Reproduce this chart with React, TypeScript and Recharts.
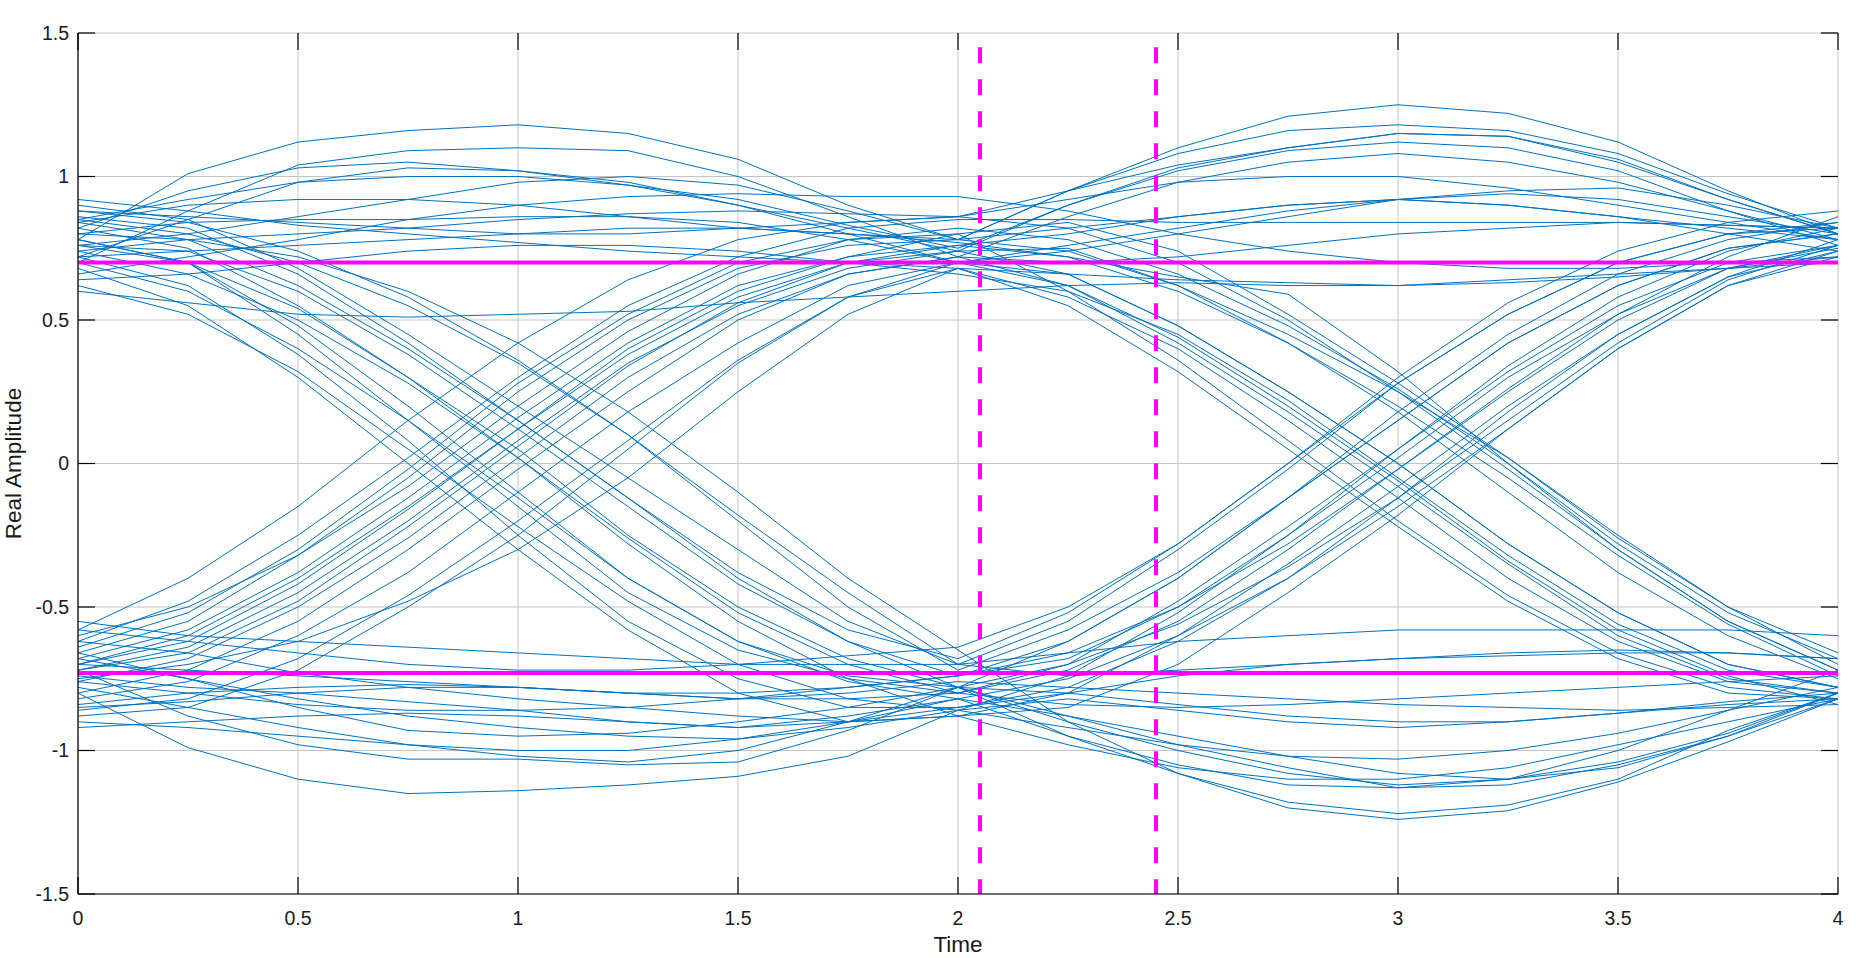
import React from 'react';
import { LineChart, Line, XAxis, YAxis, CartesianGrid, ReferenceLine } from 'recharts';

// sample instants of each trace (two symbol periods)
const time = [0, 0.25, 0.5, 0.75, 1, 1.25, 1.5, 1.75, 2, 2.25, 2.5, 2.75, 3, 3.25, 3.5, 3.75, 4];

const xTicks = [0, 0.5, 1, 1.5, 2, 2.5, 3, 3.5, 4];
const yTicks = [-1.5, -1, -0.5, 0, 0.5, 1, 1.5];

// traces grouped by the symbol sequence at t = 0, 2, 4
const highHighHigh = [
    [0.78, 1.01, 1.12, 1.16, 1.18, 1.15, 1.06, 0.9, 0.78, 0.95, 1.1, 1.21, 1.25, 1.22, 1.12, 0.95, 0.8],
    [0.7, 0.88, 1.04, 1.09, 1.1, 1.09, 1.0, 0.86, 0.72, 0.7, 0.72, 0.76, 0.8, 0.82, 0.84, 0.83, 0.82],
    [0.85, 0.92, 0.98, 1.0, 1.0, 0.97, 0.92, 0.83, 0.75, 0.9, 1.02, 1.09, 1.12, 1.1, 1.02, 0.88, 0.76],
    [0.6, 0.56, 0.52, 0.51, 0.52, 0.53, 0.56, 0.58, 0.6, 0.62, 0.63, 0.62, 0.62, 0.64, 0.66, 0.68, 0.7],
    [0.8, 0.84, 0.85, 0.85, 0.86, 0.86, 0.84, 0.78, 0.7, 0.74, 0.8, 0.86, 0.92, 0.95, 0.96, 0.9, 0.82],
    [0.66, 0.72, 0.78, 0.85, 0.9, 0.93, 0.94, 0.93, 0.93, 0.88, 0.8, 0.74, 0.7, 0.68, 0.68, 0.7, 0.72],
    [0.88, 0.86, 0.84, 0.82, 0.8, 0.8, 0.82, 0.84, 0.86, 0.95, 1.04, 1.1, 1.15, 1.14, 1.05, 0.92, 0.8],
    [0.72, 0.74, 0.76, 0.78, 0.8, 0.82, 0.82, 0.8, 0.78, 0.82, 0.86, 0.9, 0.92, 0.9, 0.86, 0.82, 0.78],
];

const highHighLow = [
    [0.82, 0.95, 1.03, 1.05, 1.02, 0.97, 0.9, 0.82, 0.74, 0.66, 0.48, 0.25, 0.0, -0.28, -0.52, -0.7, -0.78],
    [0.72, 0.85, 0.98, 1.03, 1.02, 0.98, 0.9, 0.8, 0.7, 0.62, 0.42, 0.18, -0.08, -0.35, -0.6, -0.75, -0.8],
    [0.74, 0.78, 0.8, 0.82, 0.85, 0.87, 0.88, 0.87, 0.86, 0.82, 0.7, 0.5, 0.25, -0.02, -0.3, -0.55, -0.72],
    [0.92, 0.88, 0.83, 0.8, 0.77, 0.74, 0.72, 0.7, 0.68, 0.55, 0.32, 0.05, -0.22, -0.48, -0.68, -0.8, -0.82],
    [0.76, 0.8, 0.86, 0.92, 0.98, 1.0, 0.97, 0.88, 0.78, 0.74, 0.62, 0.45, 0.25, 0.02, -0.25, -0.5, -0.7],
    [0.64, 0.66, 0.7, 0.74, 0.76, 0.76, 0.74, 0.7, 0.66, 0.6, 0.45, 0.22, -0.05, -0.32, -0.56, -0.72, -0.78],
    [0.84, 0.9, 0.92, 0.92, 0.9, 0.86, 0.82, 0.8, 0.77, 0.72, 0.65, 0.59, 0.32, 0.0, -0.3, -0.55, -0.72],
];

const highLowHigh = [
    [0.82, 0.75, 0.55, 0.3, 0.05, -0.25, -0.5, -0.68, -0.78, -0.62, -0.4, -0.12, 0.15, 0.42, 0.62, 0.75, 0.8],
    [0.78, 0.7, 0.45, 0.15, -0.15, -0.45, -0.65, -0.75, -0.8, -0.7, -0.48, -0.22, 0.05, 0.32, 0.55, 0.7, 0.76],
    [0.9, 0.85, 0.68, 0.45, 0.2, -0.05, -0.3, -0.55, -0.7, -0.55, -0.3, -0.02, 0.28, 0.52, 0.7, 0.8, 0.82],
    [0.72, 0.62, 0.38, 0.08, -0.25, -0.55, -0.75, -0.85, -0.85, -0.78, -0.62, -0.4, -0.12, 0.18, 0.45, 0.65, 0.74],
    [0.85, 0.8, 0.7, 0.55, 0.35, 0.1, -0.2, -0.5, -0.72, -0.58, -0.38, -0.12, 0.18, 0.45, 0.66, 0.78, 0.84],
    [0.76, 0.74, 0.6, 0.38, 0.12, -0.15, -0.42, -0.62, -0.74, -0.68, -0.5, -0.25, 0.02, 0.3, 0.52, 0.68, 0.75],
    [0.68, 0.55, 0.3, 0.0, -0.3, -0.58, -0.8, -0.9, -0.88, -0.85, -0.7, -0.45, -0.18, 0.12, 0.4, 0.62, 0.72],
    [0.86, 0.82, 0.66, 0.42, 0.15, -0.12, -0.38, -0.58, -0.68, -0.52, -0.28, 0.0, 0.3, 0.56, 0.74, 0.84, 0.88],
];

const highLowLow = [
    [0.8, 0.78, 0.72, 0.6, 0.42, 0.18, -0.1, -0.4, -0.65, -0.9, -1.08, -1.2, -1.24, -1.21, -1.11, -0.97, -0.82],
    [0.78, 0.7, 0.48, 0.2, -0.1, -0.4, -0.62, -0.76, -0.82, -0.95, -1.05, -1.12, -1.13, -1.1, -1.04, -0.94, -0.8],
    [0.84, 0.78, 0.62, 0.4, 0.15, -0.12, -0.4, -0.62, -0.78, -0.9, -1.0, -1.08, -1.12, -1.1, -1.0, -0.86, -0.72],
    [0.7, 0.6, 0.4, 0.15, -0.12, -0.4, -0.62, -0.74, -0.78, -0.8, -0.84, -0.88, -0.9, -0.9, -0.87, -0.83, -0.8],
    [0.88, 0.84, 0.74, 0.58, 0.36, 0.1, -0.18, -0.45, -0.7, -0.74, -0.72, -0.7, -0.68, -0.66, -0.65, -0.66, -0.68],
    [0.74, 0.66, 0.5, 0.28, 0.02, -0.26, -0.52, -0.7, -0.8, -0.84, -0.85, -0.84, -0.82, -0.8, -0.78, -0.76, -0.74],
    [0.62, 0.52, 0.32, 0.05, -0.22, -0.48, -0.7, -0.82, -0.86, -0.92, -0.98, -1.02, -1.03, -1.0, -0.94, -0.86, -0.78],
    [0.76, 0.7, 0.54, 0.3, 0.02, -0.28, -0.55, -0.75, -0.88, -0.98, -1.06, -1.1, -1.1, -1.06, -0.98, -0.9, -0.82],
];

const lowLowLow = [
    [-0.8, -0.99, -1.1, -1.15, -1.14, -1.12, -1.09, -1.02, -0.86, -0.82, -0.86, -0.9, -0.92, -0.9, -0.87, -0.84, -0.82],
    [-0.72, -0.88, -0.98, -1.03, -1.03, -1.05, -1.04, -0.93, -0.78, -0.95, -1.08, -1.18, -1.22, -1.19, -1.1, -0.93, -0.8],
    [-0.66, -0.75, -0.85, -0.93, -0.95, -0.94, -0.9, -0.85, -0.78, -0.88, -0.98, -1.06, -1.13, -1.12, -1.05, -0.95, -0.8],
    [-0.74, -0.78, -0.8, -0.83, -0.86, -0.9, -0.92, -0.9, -0.85, -0.8, -0.74, -0.7, -0.68, -0.67, -0.66, -0.66, -0.68],
    [-0.55, -0.6, -0.62, -0.64, -0.66, -0.68, -0.7, -0.7, -0.7, -0.66, -0.62, -0.6, -0.58, -0.58, -0.58, -0.58, -0.6],
    [-0.85, -0.83, -0.8, -0.78, -0.78, -0.8, -0.82, -0.8, -0.76, -0.78, -0.8, -0.82, -0.84, -0.85, -0.86, -0.85, -0.84],
    [-0.92, -0.9, -0.88, -0.87, -0.88, -0.9, -0.92, -0.88, -0.82, -0.88, -0.95, -1.02, -1.08, -1.1, -1.06, -0.95, -0.82],
];

const lowLowHigh = [
    [-0.62, -0.66, -0.73, -0.78, -0.82, -0.85, -0.88, -0.9, -0.88, -0.8, -0.6, -0.35, -0.08, 0.2, 0.45, 0.65, 0.78],
    [-0.76, -0.8, -0.84, -0.86, -0.86, -0.85, -0.82, -0.78, -0.74, -0.62, -0.4, -0.12, 0.15, 0.42, 0.62, 0.75, 0.8],
    [-0.68, -0.75, -0.82, -0.88, -0.92, -0.95, -0.96, -0.92, -0.86, -0.74, -0.52, -0.25, 0.05, 0.34, 0.58, 0.74, 0.82],
    [-0.84, -0.8, -0.78, -0.77, -0.78, -0.8, -0.8, -0.78, -0.74, -0.66, -0.5, -0.28, -0.02, 0.25, 0.5, 0.68, 0.76],
    [-0.58, -0.62, -0.66, -0.7, -0.72, -0.72, -0.7, -0.67, -0.64, -0.5, -0.28, 0.0, 0.28, 0.52, 0.7, 0.8, 0.84],
    [-0.78, -0.85, -0.92, -0.98, -1.0, -1.0, -0.96, -0.9, -0.82, -0.75, -0.6, -0.4, -0.15, 0.12, 0.4, 0.62, 0.74],
    [-0.7, -0.72, -0.74, -0.76, -0.78, -0.8, -0.82, -0.82, -0.8, -0.72, -0.55, -0.3, -0.02, 0.26, 0.52, 0.72, 0.86],
    [-0.9, -0.92, -0.95, -0.98, -1.02, -1.04, -1.0, -0.9, -0.78, -0.7, -0.56, -0.36, -0.12, 0.15, 0.42, 0.64, 0.76],
];

const lowHighHigh = [
    [-0.7, -0.6, -0.4, -0.15, 0.12, 0.38, 0.58, 0.7, 0.74, 0.9, 1.03, 1.1, 1.15, 1.14, 1.06, 0.92, 0.8],
    [-0.8, -0.72, -0.55, -0.3, -0.02, 0.25, 0.5, 0.66, 0.72, 0.86, 0.98, 1.05, 1.08, 1.05, 0.98, 0.88, 0.78],
    [-0.62, -0.48, -0.25, 0.02, 0.3, 0.55, 0.72, 0.82, 0.85, 0.85, 0.84, 0.84, 0.84, 0.84, 0.84, 0.83, 0.82],
    [-0.88, -0.85, -0.72, -0.5, -0.25, 0.05, 0.35, 0.58, 0.7, 0.76, 0.82, 0.88, 0.92, 0.94, 0.92, 0.86, 0.8],
    [-0.66, -0.55, -0.32, -0.05, 0.25, 0.5, 0.68, 0.76, 0.78, 0.95, 1.08, 1.16, 1.18, 1.16, 1.08, 0.94, 0.82],
    [-0.75, -0.7, -0.62, -0.48, -0.3, -0.05, 0.25, 0.52, 0.68, 0.66, 0.64, 0.63, 0.62, 0.63, 0.65, 0.68, 0.72],
    [-0.58, -0.4, -0.15, 0.15, 0.42, 0.64, 0.78, 0.84, 0.86, 0.92, 0.98, 1.0, 1.0, 0.96, 0.9, 0.84, 0.78],
    [-0.72, -0.66, -0.48, -0.22, 0.06, 0.34, 0.56, 0.7, 0.76, 0.8, 0.86, 0.9, 0.92, 0.9, 0.86, 0.8, 0.74],
];

const lowHighLow = [
    [-0.82, -0.76, -0.6, -0.38, -0.1, 0.18, 0.42, 0.62, 0.7, 0.66, 0.48, 0.25, 0.0, -0.28, -0.52, -0.7, -0.78],
    [-0.72, -0.64, -0.45, -0.2, 0.08, 0.35, 0.55, 0.68, 0.74, 0.75, 0.62, 0.42, 0.18, -0.1, -0.38, -0.6, -0.75],
    [-0.64, -0.52, -0.3, -0.02, 0.28, 0.52, 0.7, 0.78, 0.8, 0.6, 0.36, 0.08, -0.2, -0.46, -0.66, -0.78, -0.82],
    [-0.86, -0.82, -0.68, -0.46, -0.2, 0.08, 0.36, 0.58, 0.68, 0.58, 0.4, 0.15, -0.12, -0.4, -0.62, -0.76, -0.8],
    [-0.68, -0.58, -0.38, -0.12, 0.16, 0.42, 0.62, 0.72, 0.76, 0.72, 0.6, 0.42, 0.2, -0.05, -0.32, -0.56, -0.74],
    [-0.76, -0.68, -0.5, -0.26, 0.02, 0.3, 0.52, 0.66, 0.72, 0.62, 0.44, 0.2, -0.06, -0.34, -0.58, -0.74, -0.84],
    [-0.6, -0.5, -0.32, -0.08, 0.2, 0.46, 0.66, 0.78, 0.82, 0.78, 0.66, 0.48, 0.26, 0.0, -0.28, -0.52, -0.68],
    [-0.7, -0.62, -0.42, -0.16, 0.12, 0.4, 0.6, 0.72, 0.8, 0.84, 0.74, 0.52, 0.28, 0.02, -0.26, -0.5, -0.66],
];

// threshold / sampling markers
const levelHigh = 0.7;
const levelLow = -0.73;
const sampleStart = 2.05;
const sampleEnd = 2.45;
const markerTop = 1.45;

const traces = [
    ...highHighHigh, ...highHighLow, ...highLowHigh, ...highLowLow,
    ...lowLowLow, ...lowLowHigh, ...lowHighHigh, ...lowHighLow,
];

const data = time.map((t, i) => {
    const row: Record<string, number> = { t };
    traces.forEach((tr, k) => {
        row[`s${k}`] = tr[i];
    });
    return row;
});

const FONT = '"Liberation Sans", Arial, Helvetica, sans-serif';
const TEXT = '#1a1a1a';
const TICK_LEN = 17;
const TICK_FONT = 19.5;
const LABEL_FONT = 22.5;
const AXIS = { stroke: '#000', strokeWidth: 1.2 };

const BottomTick = (props: any) => {
    const { x, y, payload } = props;
    return (
        <text x={x} y={y} dy="0.71em" textAnchor="middle" fontSize={TICK_FONT} fontFamily={FONT} fill={TEXT}>
            {String(payload.value)}
        </text>
    );
};

const LeftTick = (props: any) => {
    const { x, y, payload } = props;
    return (
        <text x={x} y={y} dy="0.355em" textAnchor="end" fontSize={TICK_FONT} fontFamily={FONT} fill={TEXT}>
            {String(payload.value)}
        </text>
    );
};

// inward tick marks at both ends of a grid position, drawn above the grid
const VerticalMarks = (p: any) => {
    const top = Math.min(p.y1, p.y2);
    const bottom = Math.max(p.y1, p.y2);
    return (
        <g>
            <line x1={p.x1} x2={p.x1} y1={bottom} y2={bottom - TICK_LEN} stroke="#000" strokeWidth={1.2} />
            <line x1={p.x1} x2={p.x1} y1={top} y2={top + TICK_LEN} stroke="#000" strokeWidth={1.2} />
        </g>
    );
};

const HorizontalMarks = (p: any) => {
    const left = Math.min(p.x1, p.x2);
    const right = Math.max(p.x1, p.x2);
    return (
        <g>
            <line x1={left} x2={left + TICK_LEN} y1={p.y1} y2={p.y1} stroke="#000" strokeWidth={1.2} />
            <line x1={right} x2={right - TICK_LEN} y1={p.y1} y2={p.y1} stroke="#000" strokeWidth={1.2} />
        </g>
    );
};

const App: React.FC = () => {
    return (
        <div style={{ position: 'absolute', left: 0, top: 0, background: '#fff' }}>
            <LineChart width={1875} height={958} data={data} margin={{ top: 33, right: 37, left: 0, bottom: 0 }}>
                <CartesianGrid stroke="#c4c4c4" strokeWidth={1} />
                <XAxis
                    dataKey="t"
                    type="number"
                    domain={[0, 4]}
                    ticks={xTicks}
                    height={64}
                    tickSize={0}
                    tickMargin={17}
                    tickLine={false}
                    axisLine={AXIS}
                    tick={BottomTick}
                    interval={0}
                    label={{
                        content: ({ viewBox }: any) => (
                            <text
                                x={viewBox.x + viewBox.width / 2}
                                y={952}
                                textAnchor="middle"
                                fontSize={LABEL_FONT}
                                fontFamily={FONT}
                                fill={TEXT}
                            >
                                Time
                            </text>
                        ),
                    }}
                />
                <XAxis
                    xAxisId="top"
                    orientation="top"
                    dataKey="t"
                    type="number"
                    domain={[0, 4]}
                    ticks={xTicks}
                    height={0}
                    tickLine={false}
                    axisLine={AXIS}
                    tick={false}
                />
                <YAxis
                    type="number"
                    domain={[-1.5, 1.5]}
                    ticks={yTicks}
                    width={78}
                    tickSize={0}
                    tickMargin={9}
                    tickLine={false}
                    axisLine={AXIS}
                    tick={LeftTick}
                    interval={0}
                    label={{
                        content: ({ viewBox }: any) => (
                            <text
                                transform={`translate(21, ${viewBox.y + viewBox.height / 2}) rotate(-90)`}
                                textAnchor="middle"
                                fontSize={LABEL_FONT}
                                fontFamily={FONT}
                                fill={TEXT}
                            >
                                Real Amplitude
                            </text>
                        ),
                    }}
                />
                <YAxis
                    yAxisId="right"
                    orientation="right"
                    type="number"
                    domain={[-1.5, 1.5]}
                    ticks={yTicks}
                    width={0}
                    tickLine={false}
                    axisLine={AXIS}
                    tick={false}
                />
                {traces.map((_, k) => (
                    <Line
                        key={k}
                        dataKey={`s${k}`}
                        stroke="#0072BD"
                        strokeWidth={1}
                        dot={false}
                        activeDot={false}
                        isAnimationActive={false}
                    />
                ))}
                <ReferenceLine y={levelHigh} stroke="#FF00FF" strokeWidth={4} />
                <ReferenceLine y={levelLow} stroke="#FF00FF" strokeWidth={4} />
                <ReferenceLine
                    segment={[{ x: sampleStart, y: markerTop }, { x: sampleStart, y: -1.5 }]}
                    stroke="#FF00FF"
                    strokeWidth={4}
                    strokeDasharray="16 16"
                />
                <ReferenceLine
                    segment={[{ x: sampleEnd, y: markerTop }, { x: sampleEnd, y: -1.5 }]}
                    stroke="#FF00FF"
                    strokeWidth={4}
                    strokeDasharray="16 16"
                />
                {xTicks.map((v) => (
                    <ReferenceLine key={`xm${v}`} x={v} shape={VerticalMarks} />
                ))}
                {yTicks.map((v) => (
                    <ReferenceLine key={`ym${v}`} y={v} shape={HorizontalMarks} />
                ))}
            </LineChart>
        </div>
    );
};

export default App;
